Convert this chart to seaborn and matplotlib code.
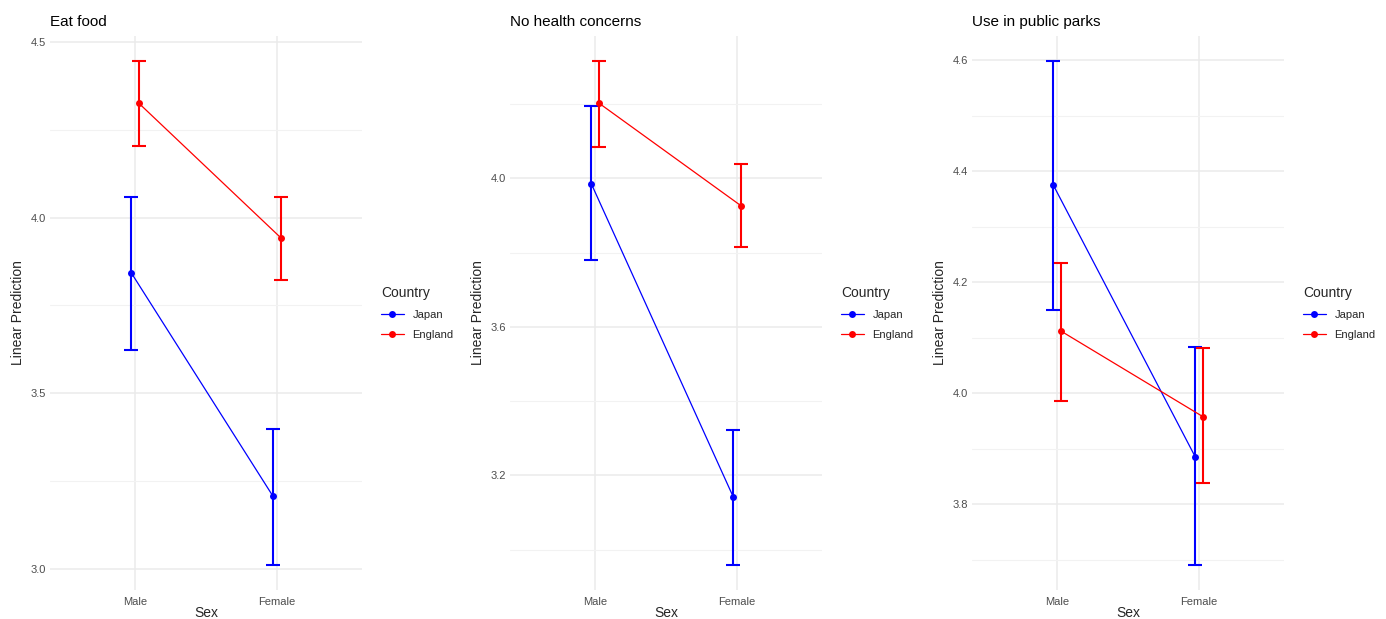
import matplotlib
matplotlib.use("Agg")
import matplotlib.pyplot as plt
from matplotlib.ticker import MultipleLocator
import pandas as pd
import seaborn as sns

# --- data (estimate + 95% CI) ---
sex_levels = ["Male", "Female"]
countries = ["Japan", "England"]
panel_titles = ["Eat food", "No health concerns", "Use in public parks"]

# order: Japan Male, Japan Female, England Male, England Female
eat_est = [3.843, 3.206, 4.326, 3.943]
eat_low = [3.623, 3.011, 4.203, 3.823]
eat_high = [4.060, 3.397, 4.446, 4.060]

health_est = [3.986, 3.143, 4.203, 3.927]
health_low = [3.781, 2.959, 4.086, 3.816]
health_high = [4.195, 3.322, 4.316, 4.038]

parks_est = [4.375, 3.886, 4.112, 3.958]
parks_low = [4.150, 3.691, 3.986, 3.838]
parks_high = [4.598, 4.083, 4.235, 4.081]

major_steps = [0.5, 0.4, 0.2]
minor_steps = [0.25, 0.2, 0.1]

palette = {"Japan": "#0000FF", "England": "#FF0000"}
dodge = {"Japan": -0.027, "England": 0.027}


def make_frame(est, low, high):
    rows = []
    i = 0
    for c in countries:
        for s_i, s in enumerate(sex_levels):
            rows.append({"Sex": s, "Country": c, "pos": s_i + dodge[c],
                         "estimate": est[i], "lower": low[i], "upper": high[i]})
            i += 1
    return pd.DataFrame(rows)


frames = [make_frame(eat_est, eat_low, eat_high),
          make_frame(health_est, health_low, health_high),
          make_frame(parks_est, parks_low, parks_high)]

sns.set_theme(style="whitegrid")
plt.rcParams["font.family"] = ["Liberation Sans", "DejaVu Sans"]

fig = plt.figure(figsize=(13.86, 6.19), dpi=100)
lefts = [50, 510, 972]
for k, df in enumerate(frames):
    ax = fig.add_axes([lefts[k] / 1386, 1 - 590 / 619, 312 / 1386, (590 - 36) / 619])

    # error bars (95% CI)
    for c in countries:
        sub = df[df["Country"] == c]
        ax.errorbar(sub["pos"], sub["estimate"],
                    yerr=[sub["estimate"] - sub["lower"], sub["upper"] - sub["estimate"]],
                    fmt="none", ecolor=palette[c], elinewidth=1.5, capsize=5,
                    capthick=1.5, zorder=3)

    sns.lineplot(data=df, x="pos", y="estimate", hue="Country", hue_order=countries,
                 palette=palette, marker="o", markersize=5, markeredgewidth=0,
                 linewidth=0.9, ax=ax, zorder=4)

    lo = df["lower"].min()
    hi = df["upper"].max()
    pad = (hi - lo) * 0.05
    ax.set_ylim(lo - pad, hi + pad)
    ax.set_xlim(-0.6, 1.6)
    ax.set_xticks([0, 1])
    ax.set_xticklabels(sex_levels)
    ax.yaxis.set_major_locator(MultipleLocator(major_steps[k]))
    ax.yaxis.set_minor_locator(MultipleLocator(minor_steps[k]))
    ax.yaxis.set_major_formatter(matplotlib.ticker.FormatStrFormatter("%.1f"))

    ax.grid(which="major", color="#EBEBEB", linewidth=1.1)
    ax.grid(which="minor", axis="y", color="#F2F2F2", linewidth=0.8)
    for sp in ax.spines.values():
        sp.set_visible(False)
    ax.set_facecolor("white")
    ax.tick_params(axis="both", which="both", length=0, labelsize=8,
                   labelcolor="#4D4D4D")
    ax.tick_params(axis="x", pad=5)
    ax.tick_params(axis="y", pad=3)

    ax.set_title(panel_titles[k], loc="left", fontsize=11, pad=7, color="black")
    ax.set_xlabel("Sex", fontsize=10, labelpad=-1)
    ax.set_ylabel("Linear Prediction", fontsize=10, labelpad=4)

    ax.legend(title="Country", loc="center left", bbox_to_anchor=(1.03, 0.5),
              frameon=False, fontsize=8, title_fontsize=10,
              handlelength=2.0, labelspacing=0.9, alignment="left")

fig.savefig("out.png", dpi=100, facecolor="white")
